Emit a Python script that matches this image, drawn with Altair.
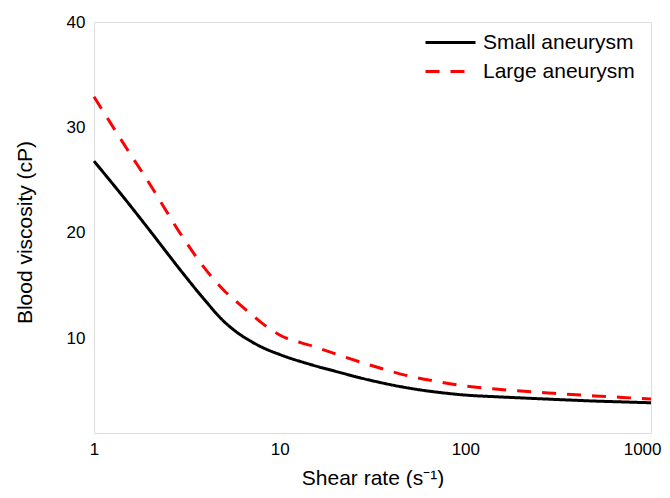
import altair as alt
import pandas as pd

shear_rate = [1, 1.5, 2, 3, 4, 5, 6, 7, 8, 10, 15, 20, 30, 50, 70, 100, 150, 200, 300, 500, 700, 1000]
small_aneurysm = [26.8, 23.0, 20.2, 16.2, 13.5, 11.6, 10.45, 9.7, 9.15, 8.45, 7.45, 6.85, 6.05, 5.25, 4.88, 4.6, 4.43, 4.33, 4.19, 4.03, 3.95, 3.87]
large_aneurysm = [32.9, 28.0, 24.6, 19.6, 16.5, 14.55, 13.3, 12.3, 11.45, 10.3, 9.25, 8.5, 7.5, 6.4, 5.9, 5.47, 5.15, 4.98, 4.77, 4.52, 4.38, 4.22]
series_names = ["Small aneurysm", "Large aneurysm"]
x_ticks = [1, 10, 100, 1000]
y_ticks = [10, 20, 30, 40]

rows = []
for name, vals in zip(series_names, [small_aneurysm, large_aneurysm]):
    for i, (x, y) in enumerate(zip(shear_rate, vals)):
        rows.append({"shear": x, "visc": y, "series": name, "order": i})
df = pd.DataFrame(rows)

FONT = "Liberation Sans"

legend_cfg = dict(title=None, orient="none", legendX=330, legendY=10,
                  symbolType="stroke", symbolSize=2500, clipHeight=21,
                  symbolStrokeWidth=3, labelFontSize=21,
                  labelFont=FONT, labelColor="black", labelOffset=6,
                  rowPadding=7, padding=0)

chart = alt.Chart(df).mark_line(strokeWidth=3, interpolate="monotone").encode(
    x=alt.X("shear:Q",
            scale=alt.Scale(type="log", domain=[1, 1000], nice=False),
            axis=alt.Axis(values=x_ticks, format="d", title="Shear rate (s⁻¹)",
                          grid=False, ticks=False, domain=False,
                          labelFontSize=17, labelPadding=8, labelColor="black",
                          labelAlign={"condition": {"test": "datum.value >= 1000", "value": "right"},
                                      "value": "center"},
                          labelOffset={"condition": {"test": "datum.value >= 1000", "value": 10},
                                       "value": 0},
                          titleFontSize=21, titleFontWeight="normal", titlePadding=10,
                          titleColor="black", labelFont=FONT, titleFont=FONT,
                          labelFlush=False, labelOverlap=False)),
    y=alt.Y("visc:Q",
            scale=alt.Scale(domain=[1, 40], nice=False, zero=False),
            axis=alt.Axis(values=y_ticks, title="Blood viscosity (cP)",
                          grid=False, ticks=False, domain=False,
                          labelFontSize=17, labelPadding=9, labelColor="black",
                          titleFontSize=21, titleFontWeight="normal", titlePadding=31,
                          titleY=210,
                          titleColor="black", labelFont=FONT, titleFont=FONT)),
    color=alt.Color("series:N",
                    scale=alt.Scale(domain=series_names, range=["#000000", "#ff0000"]),
                    legend=alt.Legend(**legend_cfg)),
    strokeDash=alt.StrokeDash("series:N",
                              scale=alt.Scale(domain=series_names, range=[[1, 0], [14, 11]]),
                              legend=alt.Legend(**legend_cfg)),
    order="order:Q",
).properties(
    width=557, height=411,
    autosize=alt.AutoSizeParams(type="none"),
    padding={"left": 86, "top": 14, "right": 11, "bottom": 55},
).configure_view(stroke="#404040", strokeWidth=1.5).configure(background="white")

chart.save("out.html", embed_options={"renderer": "svg", "actions": False})
